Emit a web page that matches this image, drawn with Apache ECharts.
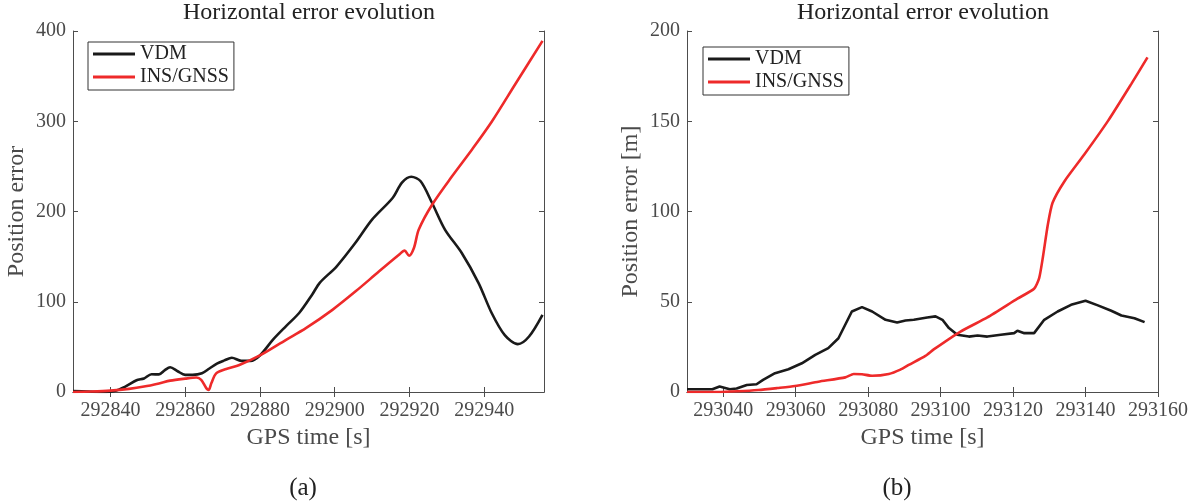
<!DOCTYPE html>
<html>
<head>
<meta charset="utf-8">
<script src="https://cdn.jsdelivr.net/npm/echarts@6/dist/echarts.min.js"></script>
<style>
  html, body { margin: 0; padding: 0; background: #fff; }
  #chart { width: 1195px; height: 502px; }
</style>
</head>
<body>
<div id="chart"></div>
<script>
// Panel (a): horizontal position error, VDM vs INS/GNSS
const timeVdmA = [292830, 292834, 292838, 292841, 292844, 292847, 292849, 292851, 292853, 292854.5,
  292856, 292858, 292860, 292862, 292864.5, 292866.5, 292868.5, 292870.5, 292872.5, 292875,
  292877.5, 292880, 292883.5, 292887, 292890.5, 292894, 292896, 292900.5, 292905.5, 292910,
  292915.5, 292918, 292920.5, 292923, 292926, 292929.5, 292934, 292938.5, 292942, 292945.5,
  292949, 292952, 292955.6];
const errVdmA = [1, 0.5, 0, 1, 6, 13, 15, 19.6, 19.5, 24,
  27.5, 23, 19, 19, 20.7, 26, 31.5, 35, 38, 34.5,
  34.5, 40.5, 58, 73, 87.5, 108, 121, 139, 165, 191,
  215, 232, 238.5, 233.5, 210, 180, 154, 120.7, 87.5, 63,
  53, 61.5, 85.5];

const timeInsA = [292830, 292835, 292840, 292845, 292849, 292853, 292856, 292860, 292863, 292864.3,
  292865.7, 292866.3, 292867, 292868.3, 292871, 292874.5, 292880, 292887, 292892.3, 292899.4,
  292905.6, 292911.9, 292917.2, 292918.7, 292919.9, 292921.2, 292922.5, 292926.1, 292931.4, 292936.8,
  292942.1, 292948.3, 292955.6];
const errInsA = [0, 0.5, 1.5, 3.5, 6, 9.5, 12.6, 14.8, 16, 13.4,
  4, 2.2, 9.6, 20.7, 25.5, 30, 40.5, 57.8, 70.7, 91,
  111.5, 133.7, 152, 156.7, 151, 159.6, 180, 207.8, 239, 269,
  300, 341, 389];

// Panel (b)
const timeVdmB = [293030, 293033, 293037, 293039, 293041.8, 293043.7, 293046.5, 293049.2, 293051, 293054.3,
  293058, 293061.7, 293065.4, 293069, 293071.8, 293075.5, 293078.3, 293081.1, 293084.8, 293088,
  293090.3, 293092.6, 293096.3, 293098.6, 293100.5, 293102.3, 293104.6, 293107.8, 293110.2, 293112.9,
  293116.6, 293120.3, 293121.2, 293123.1, 293125.8, 293128.6, 293132.3, 293136, 293140, 293143.4,
  293147.1, 293149.9, 293153.5, 293156.3];
const errVdmB = [1.5, 1.5, 1.5, 3, 1.5, 1.9, 3.9, 4.3, 6.7, 10.4,
  12.6, 15.9, 20.6, 24.3, 29.8, 44.6, 47, 44.6, 40, 38.5,
  39.6, 40, 41.3, 41.9, 40, 35.4, 31.7, 30.7, 31.3, 30.7,
  31.7, 32.6, 33.9, 32.6, 32.6, 40, 44.6, 48.3, 50.6, 48,
  45, 42.4, 40.9, 38.7];

const timeInsB = [293030, 293038.5, 293044, 293049.7, 293055, 293059.8, 293066.3, 293073.7, 293076, 293078.3,
  293081.1, 293085.7, 293088.9, 293091.2, 293095.8, 293098.1, 293105.5, 293112.9, 293121.2, 293125.8,
  293127.2, 293128.2, 293129.6, 293130.9, 293134.2, 293139.7, 293146.2, 293152.6, 293157.1];
const errInsB = [0, 0, 0.4, 1.1, 2.2, 3.3, 5.7, 8.1, 10, 9.8,
  9, 10, 12.4, 15, 20, 23.6, 33.5, 41.3, 51.7, 57.2,
  63.1, 74.3, 92.8, 104.8, 116.8, 131.7, 150.2, 170.6, 185.4];

// Axis ticks
const xTicksA = [292840, 292860, 292880, 292900, 292920, 292940];
const xTicksB = [293040, 293060, 293080, 293100, 293120, 293140, 293160];

const SERIF = '"Liberation Serif", "DejaVu Serif", serif';
const AXIS_GRAY = '#4d4d4d';
const LABEL_GRAY = '#4a4a4a';
const BLACK = '#1a1a1a';
const RED = '#ee2a2a';

const zip = (xs, ys) => xs.map((x, i) => [x, ys[i]]);
const plain = v => String(Math.round(v));

const chart = echarts.init(document.getElementById('chart'), null, { renderer: 'canvas' });

function xAxisPair(gridIndex, min, max, ticks) {
  const common = {
    gridIndex, type: 'value', min, max,
    splitLine: { show: false },
    axisLine: { show: true, lineStyle: { color: AXIS_GRAY, width: 1 } },
    axisTick: { show: true, inside: true, length: 5, customValues: ticks,
      lineStyle: { color: AXIS_GRAY, width: 1 } }
  };
  return [
    Object.assign({}, common, {
      position: 'bottom',
      name: 'GPS time [s]', nameLocation: 'middle', nameGap: 33,
      nameTextStyle: { fontFamily: SERIF, fontSize: 24, color: LABEL_GRAY },
      axisLabel: { show: true, customValues: ticks, margin: 9, formatter: plain,
        fontFamily: SERIF, fontSize: 20, color: LABEL_GRAY }
    }),
    Object.assign({}, common, { position: 'top', axisLabel: { show: false } })
  ];
}

function yAxisPair(gridIndex, max, interval, name, gap) {
  const common = {
    gridIndex, type: 'value', min: 0, max, interval,
    splitLine: { show: false },
    axisLine: { show: true, lineStyle: { color: AXIS_GRAY, width: 1 } },
    axisTick: { show: true, inside: true, length: 5, lineStyle: { color: AXIS_GRAY, width: 1 } }
  };
  return [
    Object.assign({}, common, {
      position: 'left',
      name, nameLocation: 'middle', nameGap: gap,
      nameTextStyle: { fontFamily: SERIF, fontSize: 24, color: LABEL_GRAY },
      axisLabel: { show: true, margin: 7, formatter: plain,
        fontFamily: SERIF, fontSize: 20, color: LABEL_GRAY }
    }),
    Object.assign({}, common, { position: 'right', axisLabel: { show: false } })
  ];
}

function lineSeries(name, data, color, xi, yi, smooth) {
  return {
    name, type: 'line', data, xAxisIndex: xi, yAxisIndex: yi,
    showSymbol: false, symbol: 'none', smooth,
    lineStyle: { color, width: 2.6 }, itemStyle: { color },
    emphasis: { disabled: true }, animation: false
  };
}

function legendAt(left, top) {
  return {
    orient: 'vertical', left, top,
    data: ['VDM', 'INS/GNSS'],
    icon: 'rect', itemWidth: 42, itemHeight: 3, itemGap: 3,
    padding: [2, 5, 3, 5],
    borderColor: '#333', borderWidth: 1, backgroundColor: '#fff',
    textStyle: { fontFamily: SERIF, fontSize: 20, color: '#222' },
    selectedMode: false
  };
}

const option = {
  animation: false,
  backgroundColor: '#fff',
  grid: [
    { left: 73, top: 31, width: 471, height: 361 },
    { left: 687, top: 31, width: 471, height: 361 }
  ],
  xAxis: [
    ...xAxisPair(0, 292830, 292956, xTicksA),
    ...xAxisPair(1, 293030, 293160, xTicksB)
  ],
  yAxis: [
    ...yAxisPair(0, 400, 100, 'Position error', 44),
    ...yAxisPair(1, 200, 50, 'Position error [m]', 44)
  ],
  legend: [legendAt(88, 42), legendAt(703, 47)],
  series: [
    lineSeries('VDM', zip(timeVdmA, errVdmA), BLACK, 0, 0, 0.3),
    lineSeries('INS/GNSS', zip(timeInsA, errInsA), RED, 0, 0, 0.3),
    lineSeries('VDM', zip(timeVdmB, errVdmB), BLACK, 2, 2, false),
    lineSeries('INS/GNSS', zip(timeInsB, errInsB), RED, 2, 2, 0.2)
  ],
  graphic: [
    { type: 'text', x: 309, y: 13, style: { text: 'Horizontal error evolution', fontFamily: SERIF,
      fontSize: 24, fill: '#222', align: 'center', verticalAlign: 'middle' } },
    { type: 'text', x: 923, y: 13, style: { text: 'Horizontal error evolution', fontFamily: SERIF,
      fontSize: 24, fill: '#222', align: 'center', verticalAlign: 'middle' } },
    { type: 'text', x: 303, y: 488, style: { text: '(a)', fontFamily: SERIF,
      fontSize: 25, fill: '#222', align: 'center', verticalAlign: 'middle' } },
    { type: 'text', x: 897, y: 488, style: { text: '(b)', fontFamily: SERIF,
      fontSize: 25, fill: '#222', align: 'center', verticalAlign: 'middle' } }
  ]
};

chart.setOption(option);
</script>
</body>
</html>
